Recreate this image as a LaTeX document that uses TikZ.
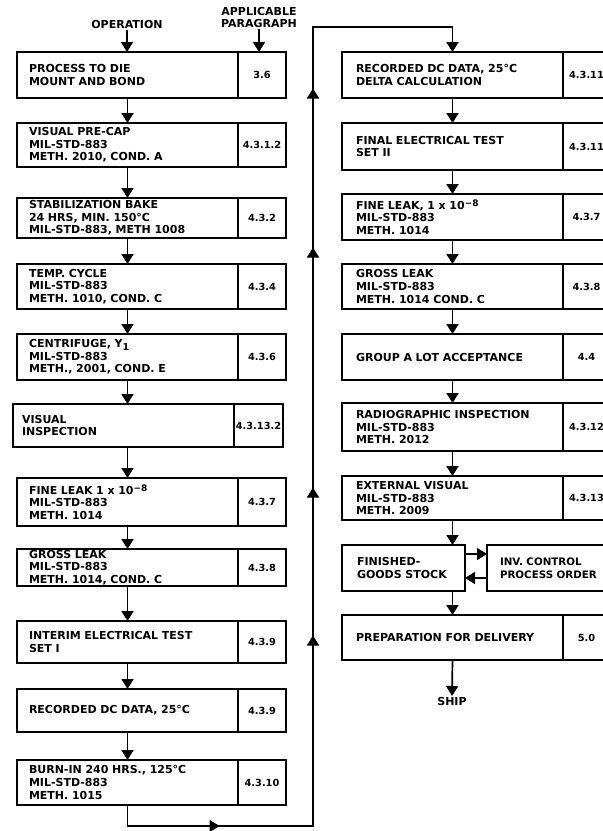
\documentclass[tikz,border=0pt]{standalone}
\usepackage{fontspec}
\setmainfont{DejaVu Sans}
\usetikzlibrary{arrows.meta,decorations.markings}
\newcommand\opfont{\fontsize{11}{12.6}\selectfont\bfseries}
\newcommand\numfont{\fontsize{9.8}{12}\selectfont\bfseries}
\newcommand\supx[1]{\raisebox{0.55ex}{\fontsize{9}{9}\selectfont #1}}
\newcommand\subx[1]{\raisebox{-0.45ex}{\fontsize{9.5}{9.5}\selectfont #1}}
\tikzset{
  box/.style={draw, line width=1.7pt, rectangle, inner ysep=0pt, outer sep=0pt},
  opnode/.style={box, align=left, font=\opfont},
  numnode/.style={box, align=center, font=\numfont, inner xsep=1pt},
  tip/.style={-{Triangle[length=10pt,width=12pt]}},
  arr/.style={line width=1.7pt, tip},
  hdr/.style={font=\opfont, align=center, inner sep=1pt},
}
\newcommand\mkbox[9]{%
  \pgfmathsetmacro\bw{#3-#2}%
  \pgfmathsetmacro\bh{#6-#5}%
  \pgfmathsetmacro\tw{#3-#2-2*#7}%
  \pgfmathsetmacro\nw{#4-#3}%
  \node[opnode, minimum width=\bw pt, minimum height=\bh pt, text width=\tw pt, inner xsep=#7pt] (#1) at ({(#2+#3)/2},{(#5+#6)/2}) {#8};
  \node[numnode, minimum width=\nw pt, minimum height=\bh pt] (#1n) at ({(#3+#4)/2},{(#5+#6)/2}) {#9};
}
\begin{document}
\begin{tikzpicture}[x=1pt,y=-1pt]
\useasboundingbox (0,0) rectangle (603,831);
\fill[white] (0,0) rectangle (603,831);
\clip (0,0) rectangle (603,831);

% headers
\node[hdr] (hop) at (127,24.5) {OPERATION};
\node[hdr] (hap) at (259,17.5) {APPLICABLE\\PARAGRAPH};

% left column
\mkbox{b1}{17}{238}{286}{52}{98}{12}{PROCESS TO DIE\\MOUNT AND BOND}{3.6}
\mkbox{b2}{17}{238}{286}{123}{167}{12}{VISUAL PRE-CAP\\MIL-STD-883\\METH. 2010, COND. A}{4.3.1.2}
\mkbox{b3}{17}{238}{286}{198}{238}{12}{STABILIZATION BAKE\\24 HRS, MIN. 150°C\\MIL-STD-883, METH 1008}{4.3.2}
\mkbox{b4}{17}{238}{286}{264}{309}{12}{TEMP. CYCLE\\MIL-STD-883\\METH. 1010, COND. C}{4.3.4}
\mkbox{b5}{17}{238}{286}{334}{380}{12}{CENTRIFUGE, Y\subx{1}\\MIL-STD-883\\METH., 2001, COND. E}{4.3.6}
\mkbox{b6}{13}{234}{283}{404}{447}{9}{VISUAL\\INSPECTION}{4.3.13.2}
\mkbox{b7}{17}{238}{286}{478}{526}{12}{FINE LEAK 1 x 10\supx{−8}\\MIL-STD-883\\METH. 1014}{4.3.7}
\mkbox{b8}{17}{238}{286}{549}{586}{12}{GROSS LEAK\\MIL-STD-883\\METH. 1014, COND. C}{4.3.8}
\mkbox{b9}{17}{238}{286}{621}{663}{12}{INTERIM ELECTRICAL TEST\\SET I}{4.3.9}
\mkbox{b10}{17}{238}{286}{689}{732}{12}{RECORDED DC DATA, 25°C}{4.3.9}
\mkbox{b11}{17}{238}{286}{760}{805}{12}{BURN-IN 240 HRS., 125°C\\MIL-STD-883\\METH. 1015}{4.3.10}

% right column
\mkbox{r1}{342}{563}{610}{52}{98}{14}{RECORDED DC DATA, 25°C\\DELTA CALCULATION}{4.3.11}
\mkbox{r2}{342}{563}{610}{123}{170}{14}{FINAL ELECTRICAL TEST\\SET II}{4.3.11}
\mkbox{r3}{342}{563}{610}{194}{240}{14}{FINE LEAK, 1 x 10\supx{−8}\\MIL-STD-883\\METH. 1014}{4.3.7}
\mkbox{r4}{342}{563}{610}{264}{309}{14}{GROSS LEAK\\MIL-STD-883\\METH. 1014 COND. C}{4.3.8}
\mkbox{r5}{342}{563}{610}{334}{380}{14}{GROUP A LOT ACCEPTANCE}{4.4}
\mkbox{r6}{342}{563}{610}{403}{451}{14}{RADIOGRAPHIC INSPECTION\\MIL-STD-883\\METH. 2012}{4.3.12}
\mkbox{r7}{342}{563}{610}{476}{520}{14}{EXTERNAL VISUAL\\MIL-STD-883\\METH. 2009}{4.3.13}
\node[opnode, minimum width=123pt, minimum height=46pt, text width=93pt, inner xsep=15pt] (fg) at (403.5,568) {\mbox{FINISHED-}\\\mbox{GOODS STOCK}};
\node[opnode, font=\fontsize{10.3}{12.6}\selectfont\bfseries, minimum width=125pt, minimum height=46pt, text width=99pt, inner xsep=13pt] (inv) at (549.5,568) {\mbox{INV. CONTROL}\\\mbox{PROCESS ORDER}};
\mkbox{r9}{342}{563}{610}{615}{660}{14}{PREPARATION FOR DELIVERY}{5.0}
\node[hdr, anchor=north] (ship) at (452,696) {SHIP};

% header arrows
\draw[arr] (hop.south) -- (hop.south |- b1.north);
\draw[arr] (hap.south) -- (hap.south |- b1n.north);

% left chain
\draw[arr] (b1.south) -- (b2.north);
\draw[arr] (b2.south) -- (b3.north);
\draw[arr] (b3.south) -- (b4.north);
\draw[arr] (b4.south) -- (b5.north);
\draw[arr] (b5.south) -- (b5.south |- b6.north);
\draw[arr] (b7.north |- b6.south) -- (b7.north);
\draw[arr] (b7.south) -- (b8.north);
\draw[arr] (b8.south) -- (b9.north);
\draw[arr] (b9.south) -- (b10.north);
\draw[arr] (b10.south) -- (b11.north);

% loop connector
\coordinate (lb) at (313,826);
\coordinate (lt) at (313,27);
\draw[arr, postaction={decorate}, decoration={markings,
    mark=at position 113pt with {\arrow{Triangle[length=10pt,width=12pt]}},
    mark=at position 397pt with {\arrow{Triangle[length=10pt,width=12pt]}},
    mark=at position 545pt with {\arrow{Triangle[length=10pt,width=12pt]}},
    mark=at position 785pt with {\arrow{Triangle[length=10pt,width=12pt]}},
    mark=at position 944pt with {\arrow{Triangle[length=10pt,width=12pt]}}}]
  (b11.south) |- (lb) -- (lt) -| (r1.north);

% right chain
\draw[arr] (r1.south) -- (r2.north);
\draw[arr] (r2.south) -- (r3.north);
\draw[arr] (r3.south) -- (r4.north);
\draw[arr] (r4.south) -- (r5.north);
\draw[arr] (r5.south) -- (r6.north);
\draw[arr] (r6.south) -- (r7.north);
\draw[arr] (r7.south) -- (r7.south |- fg.north);
\draw[arr] (r9.north |- fg.south) -- (r9.north);
\draw[arr] ([yshift=14pt]fg.east) -- ([yshift=14pt]inv.west);
\draw[arr] ([yshift=-10pt]inv.west) -- ([yshift=-10pt]fg.east);
\draw[arr] (r9.south) -- (ship.north);
\end{tikzpicture}
\end{document}
